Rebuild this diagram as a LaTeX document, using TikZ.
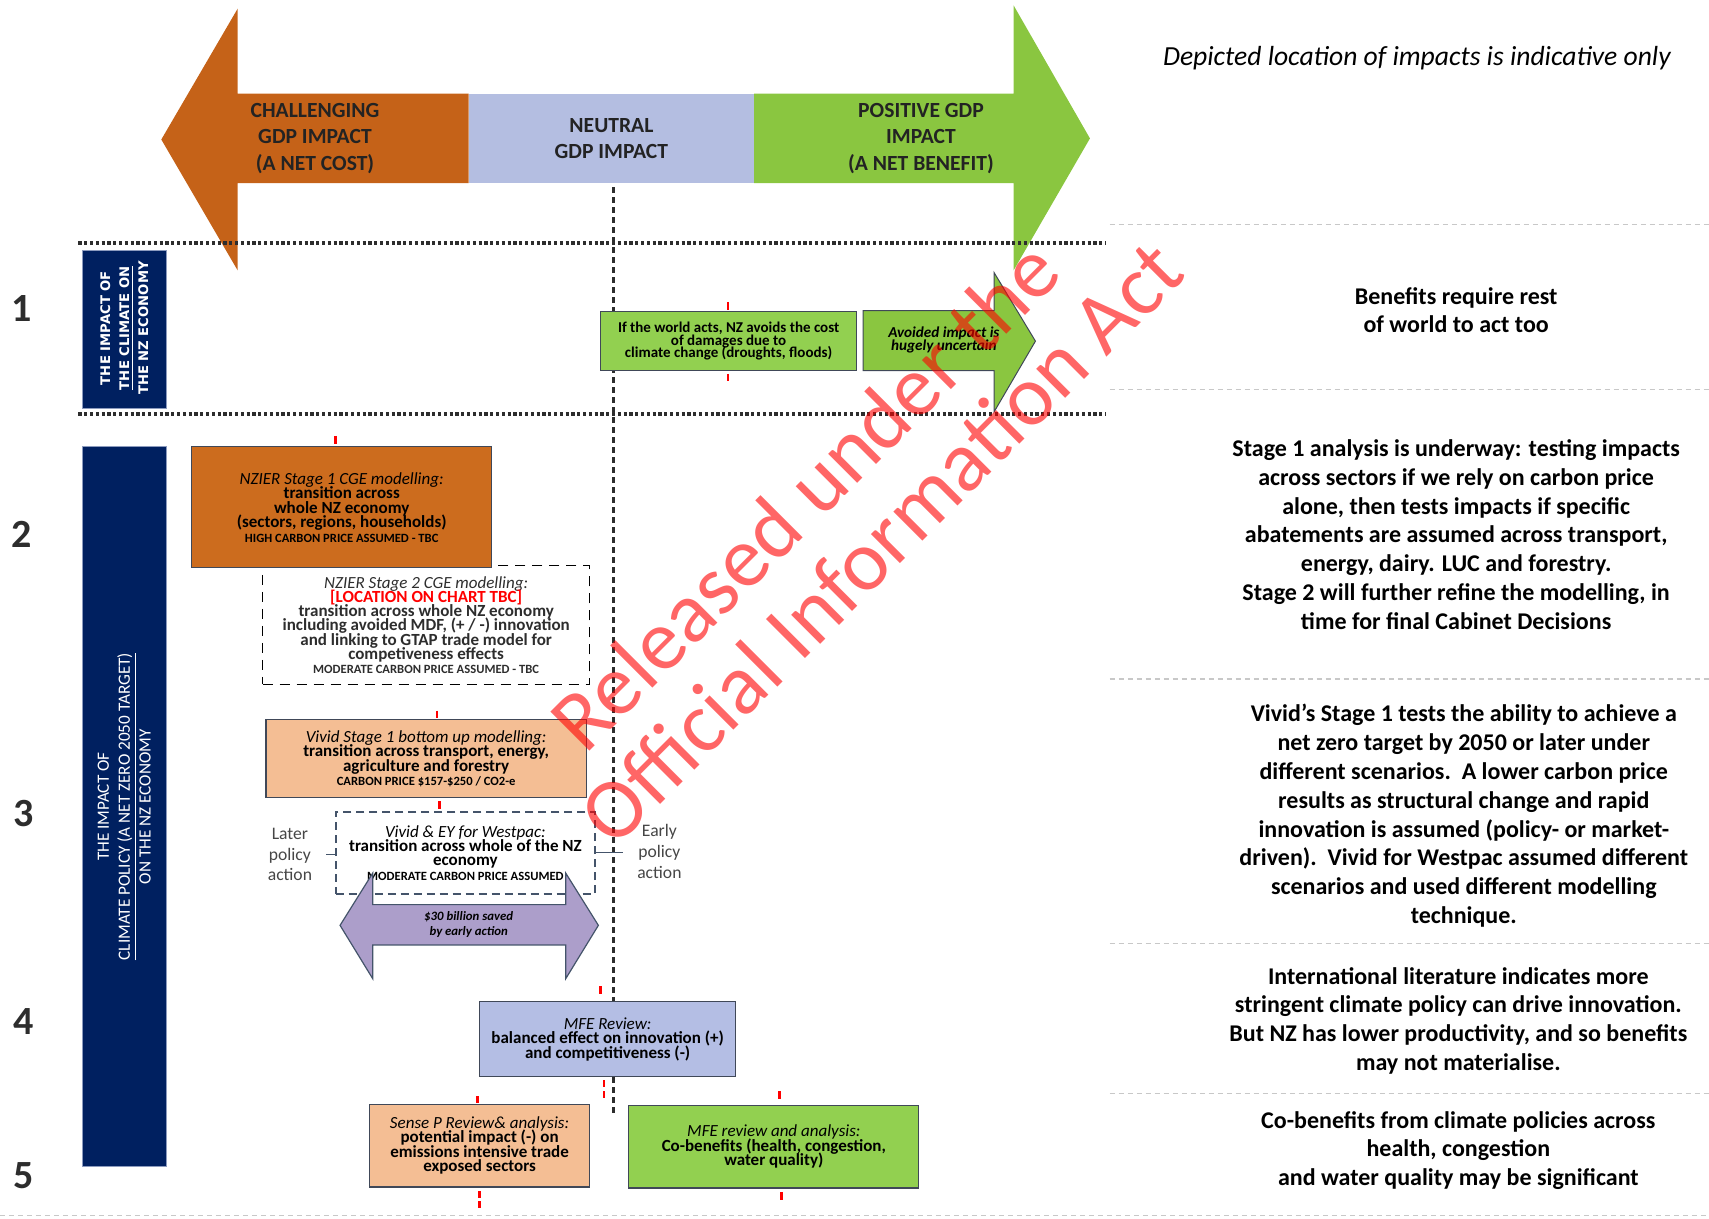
\documentclass[tikz,border=0pt]{standalone}
\usepackage{fontspec}
\setmainfont{Carlito}
\newfontfamily\dejavub{DejaVu Sans}
\newcommand{\myfs}[2]{\fontsize{#1pt}{#2pt}\selectfont\lineskiplimit=-20pt\relax}
\definecolor{orA}{RGB}{197,98,24}
\definecolor{orB}{RGB}{204,108,30}
\definecolor{neut}{RGB}{180,190,225}
\definecolor{grA}{RGB}{138,198,64}
\definecolor{grB}{RGB}{146,208,80}
\definecolor{lor}{RGB}{244,190,148}
\definecolor{navy}{RGB}{0,32,96}
\definecolor{navyedge}{RGB}{140,155,190}
\definecolor{purp}{RGB}{172,158,202}
\definecolor{mfeb}{RGB}{180,190,228}
\definecolor{boxline}{RGB}{64,72,88}
\definecolor{lgrey}{RGB}{200,200,200}
\definecolor{dgrey}{RGB}{45,45,45}
\definecolor{slate}{RGB}{68,84,106}
\definecolor{txtgrey}{RGB}{70,70,70}
\definecolor{toptext}{RGB}{35,35,35}
\newcommand{\bxnode}[7]{%
  \pgfmathsetmacro{\myBW}{(#4-#2)*0.545}%
  \pgfmathsetmacro{\myBH}{(#5-#3)*0.545}%
  \pgfmathsetmacro{\myCX}{(#2+#4)/2}%
  \pgfmathsetmacro{\myCY}{(#3+#5)/2}%
  \node[#6, minimum width=\myBW pt, minimum height=\myBH pt] (#1) at (\myCX,\myCY) {#7};}
\begin{document}
\begin{tikzpicture}[x=0.545pt,y=-0.545pt,
  toptxt/.style={font={\myfs{10.8}{13.1}\bfseries}, text=toptext, align=center, inner sep=0},
  num/.style={font={\myfs{20}{24}\bfseries}, text=dgrey, inner sep=0},
  side/.style={font={\myfs{12}{14.4}\bfseries}, align=center, inner sep=0},
  bx/.style={draw=boxline, line width=0.6pt, inner sep=0, align=center, font={\myfs{8.5}{7.2}}},
  dline/.style={dgrey, line width=2pt, dash pattern=on 1.6pt off 1.3pt},
  vline/.style={dgrey, line width=1.4pt, dash pattern=on 3pt off 2pt},
  lightd/.style={lgrey, line width=0.6pt, dash pattern=on 2.5pt off 2pt},
  redtick/.style={red, line width=1.3pt},
  wm/.style={font={\myfs{43}{50}}, text=red, text opacity=0.6, rotate=45, inner sep=0},
  bluebox/.style={fill=navy, draw=navyedge, line width=0.6pt, inner sep=0},
  sidelbl/.style={font={\myfs{8.8}{10.4}}, text=txtgrey, align=center, inner sep=0}
]
\useasboundingbox (0,0) rectangle (1568,1118);

% top arrows
\fill[orA] (430,86) -- (218,86) -- (218,8) -- (148,128) -- (218,248) -- (218,168) -- (430,168) -- cycle;
\fill[neut] (430,86) rectangle (692,168);
\fill[grA] (692,86) -- (930,86) -- (930,5) -- (1000,127) -- (930,248) -- (930,168) -- (692,168) -- cycle;
\node[toptxt] (tc) at (289,127) {CHALLENGING\\GDP IMPACT\\(A NET COST)};
\node[toptxt] (tn) at (561,127) {NEUTRAL\\GDP IMPACT};
\node[toptxt] (tp) at (845,127) {POSITIVE GDP\\IMPACT\\(A NET BENEFIT)};

\node[font={\myfs{13.8}{16}\itshape}, inner sep=0] (dep) at (1300,53) {Depicted location of impacts is indicative only};

% light dashed separators
\draw[lightd] (1018,206) -- (1568,206);
\draw[lightd] (1018,357) -- (1568,357);
\draw[lightd] (1018,623) -- (1568,623);
\draw[lightd] (1018,866) -- (1568,866);
\draw[lightd] (1018,1003) -- (1568,1003);
\draw[lightd] (0,1115) -- (1568,1115);

% numbers
\node[num] (n1) at (20,283) {1};
\node[num] (n2) at (20,490) {2};
\node[num] (n3) at (22,746) {3};
\node[num] (n4) at (22,937) {4};
\node[num] (n5) at (22,1079) {5};

% blue side boxes
\bxnode{b1}{76}{230}{153}{375}{bluebox}{}
\node[rotate=90, align=center, font={\dejavub\bfseries\myfs{6.6}{9.5}}, text=white, inner sep=0] (b1t) at (114,301) {THE IMPACT OF\\\underline{THE CLIMATE ON}\\THE NZ ECONOMY};
\bxnode{b2}{76}{410}{153}{1070}{bluebox}{}
\node[rotate=90, align=center, font={\myfs{8.6}{10.4}}, text=white, inner sep=0] (b2t) at (114,740) {THE IMPACT OF\\\underline{CLIMATE POLICY (A NET ZERO 2050 TARGET)}\\ON THE NZ ECONOMY};

% central vertical line
\coordinate (vt) at (563,172);
\coordinate (vb) at (563,1022);
\draw[vline] (vt) -- (vb);

% row 1
\bxnode{w1}{551}{286}{786}{340}{bx, fill=grB, font={\myfs{7.5}{6.3}\bfseries}}{If the world acts, NZ avoids the cost\\of damages due to\\climate change (droughts, floods)}
\filldraw[fill=grA, draw=boxline, line width=0.5pt] (792,285) -- (912,285) -- (912,250) -- (950,313) -- (912,378) -- (912,340) -- (792,340) -- cycle;
\node[font={\myfs{7.6}{6.2}\bfseries\itshape}, align=center, inner sep=0] (avd) at (866,312) {Avoided impact is\\hugely uncertain};

% row 2
\bxnode{nz2}{241}{519}{541}{628}{draw=black, dash pattern=on 5pt off 3.5pt, line width=0.8pt, inner sep=0, align=center, font={\myfs{8.5}{7.1}}, text=dgrey}{{\itshape NZIER Stage 2 CGE modelling:}\\{\color{red}\bfseries [LOCATION ON CHART TBC]}\\\textbf{transition across whole NZ economy}\\\textbf{including avoided MDF, (+ / -) innovation}\\\textbf{and linking to GTAP trade model for}\\\textbf{competiveness effects}\\{\myfs{6.3}{7}\bfseries MODERATE CARBON PRICE ASSUMED - TBC}}
\bxnode{nz1}{176}{410}{451}{521}{bx, fill=orB}{{\itshape NZIER Stage 1 CGE modelling:}\\\textbf{transition across}\\\textbf{whole NZ economy}\\\textbf{(sectors, regions, households)}\\{\myfs{6.3}{7}\bfseries HIGH CARBON PRICE ASSUMED - TBC}}

% row 3
\bxnode{v1}{244}{660}{538}{732}{bx, fill=lor}{{\itshape Vivid Stage 1 bottom up modelling:}\\\textbf{transition across transport, energy,}\\\textbf{agriculture and forestry}\\{\myfs{6.3}{7}\bfseries CARBON PRICE \$157-\$250 / CO2-e}}
\bxnode{vey}{308}{745}{546}{820}{draw=slate, dash pattern=on 4pt off 2.5pt, line width=0.8pt, inner sep=0, align=center, font={\myfs{8.5}{7.2}}}{{\itshape Vivid \& EY for Westpac:}\\\textbf{transition across whole of the NZ}\\\textbf{economy}\\{\myfs{6.3}{7}\bfseries MODERATE CARBON PRICE ASSUMED}}
\filldraw[fill=purp, draw=slate, line width=0.6pt] (312,849) -- (342,801) -- (342,830) -- (519,830) -- (519,801) -- (549,849) -- (519,898) -- (519,867) -- (342,867) -- (342,898) -- cycle;
\node[font={\myfs{6.4}{7.6}\bfseries\itshape}, align=center, inner sep=0] (sav) at (430,848) {\$30 billion saved\\by early action};
\node[sidelbl] (later) at (266,784) {Later\\policy\\action};
\node[sidelbl] (early) at (605,781) {Early\\policy\\action};
\draw[slate, line width=0.6pt, shorten <=7pt] (later.east) -- (later.east -| vey.west);
\draw[slate, line width=0.6pt, shorten >=7pt] (vey.east) -- (vey.east -| early.west);

% row 4-5
\bxnode{mfe}{440}{919}{675}{988}{bx, fill=mfeb}{{\itshape MFE Review:}\\\textbf{balanced effect on innovation (+)}\\\textbf{and competitiveness (-)}}
\bxnode{sp}{339}{1013}{541}{1089}{bx, fill=lor}{{\itshape Sense P Review\& analysis:}\\\textbf{potential impact (-) on}\\\textbf{emissions intensive trade}\\\textbf{exposed sectors}}
\bxnode{mg}{577}{1014}{843}{1090}{bx, fill=grB}{{\itshape MFE review and analysis:}\\\textbf{Co-benefits (health, congestion,}\\\textbf{water quality)}}

% red ticks
\draw[redtick] (668,277) -- (668,284);
\draw[redtick] (668,343) -- (668,350);
\draw[redtick] (308,400) -- (308,407);
\draw[redtick] (401,652) -- (401,659);
\draw[redtick] (403,735) -- (403,742);
\draw[redtick] (551,905) -- (551,912);
\draw[redtick] (554,991) -- (554,997);
\draw[redtick] (554,1001) -- (554,1007);
\draw[redtick] (438,1006) -- (438,1012);
\draw[redtick] (440,1093) -- (440,1099);
\draw[redtick] (440,1102) -- (440,1108);
\draw[redtick] (715,1001) -- (715,1008);
\draw[redtick] (717,1094) -- (717,1101);

% dotted horizontal band lines
\draw[dline] (72,223) -- (1015,223);
\draw[dline] (72,380) -- (1015,380);

% right side texts
\node[side] (s1) at (1336,284.5) {Benefits require rest\\of world to act too};
\node[side] (s2) at (1336,490.5) {Stage 1 analysis is underway: testing impacts\\across sectors if we rely on carbon price\\alone, then tests impacts if specific\\abatements are assumed across transport,\\energy, dairy. LUC and forestry.\\Stage 2 will further refine the modelling, in\\time for final Cabinet Decisions};
\node[side] (s3) at (1343,748.5) {Vivid’s Stage 1 tests the ability to achieve a\\net zero target by 2050 or later under\\different scenarios.\ \ A lower carbon price\\results as structural change and rapid\\innovation is assumed (policy- or market-\\driven).\ \ Vivid for Westpac assumed different\\scenarios and used different modelling\\technique.};
\node[side] (s4) at (1338,936.5) {International literature indicates more\\stringent climate policy can drive innovation.\\But NZ has lower productivity, and so benefits\\may not materialise.};
\node[side] (s5) at (1338,1055.5) {Co-benefits from climate policies across\\health, congestion\\and water quality may be significant};

% watermark
\node[wm] (wm1) at (738,454) {Released under the};
\node[wm] (wm2) at (808,497) {Official Information Act};
\end{tikzpicture}
\end{document}
